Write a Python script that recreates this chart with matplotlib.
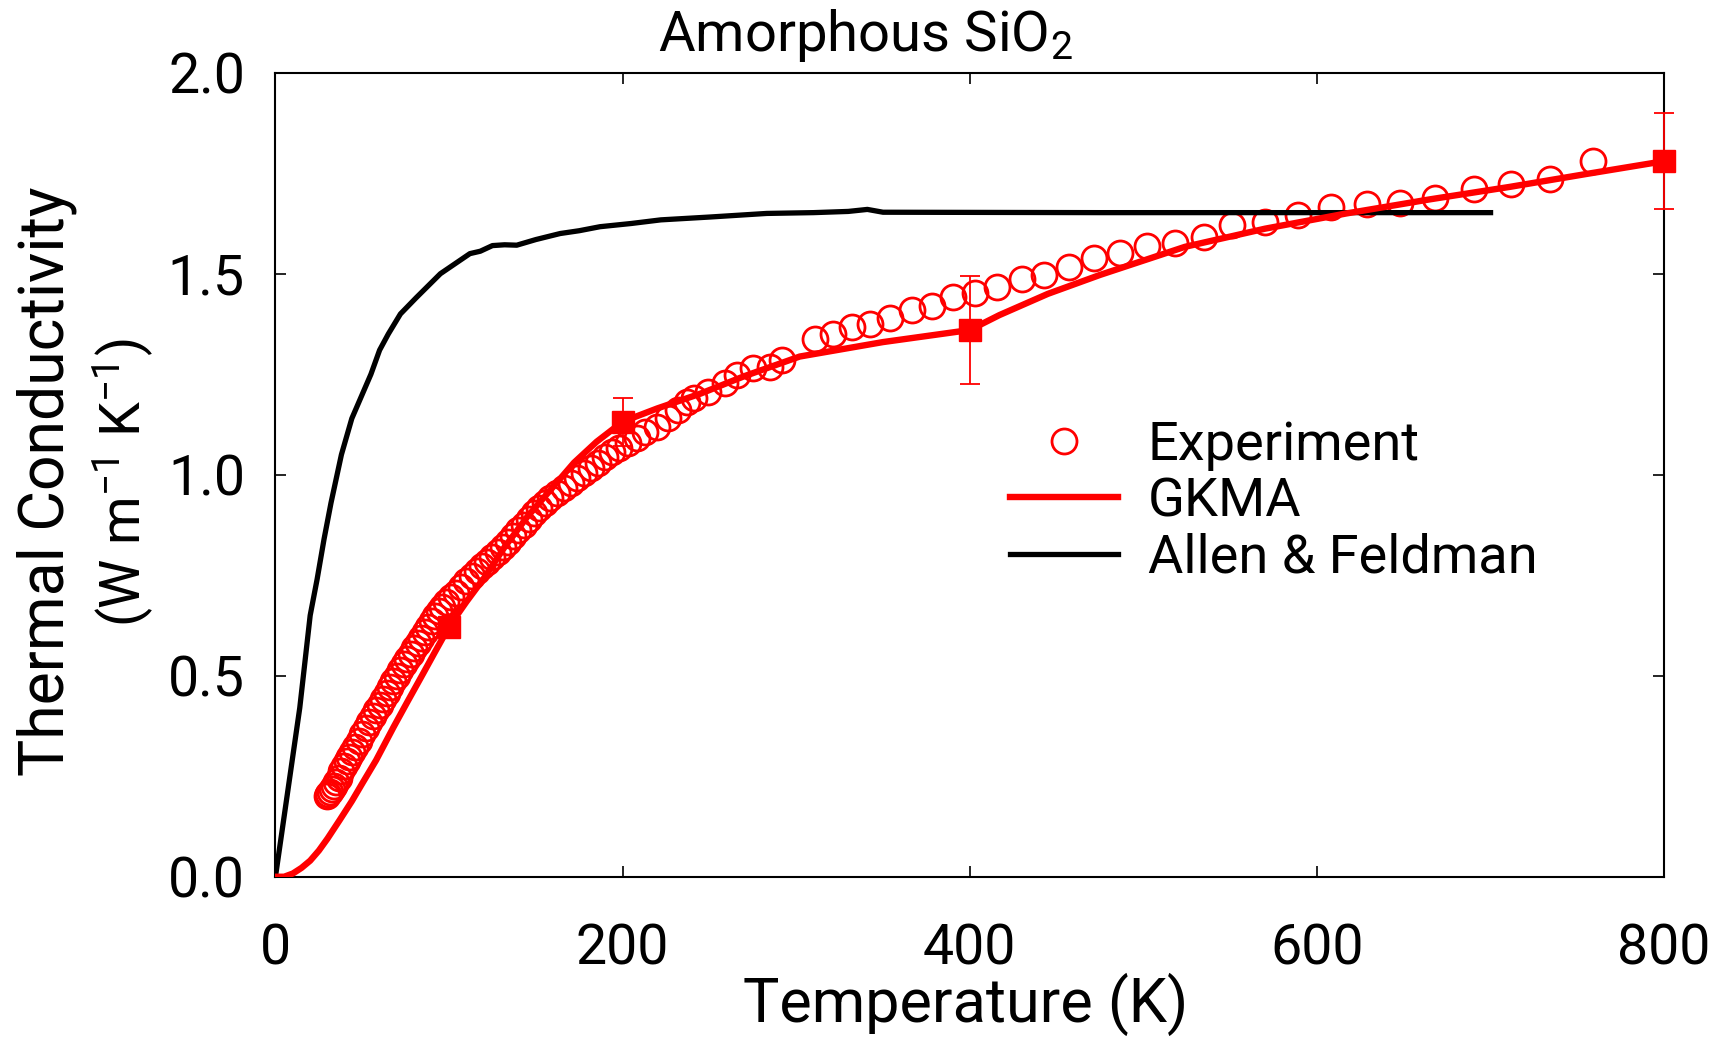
import matplotlib
matplotlib.use("Agg")
import matplotlib.pyplot as plt
from matplotlib.lines import Line2D

plt.rcParams['font.family'] = ['Roboto', 'DejaVu Sans']
plt.rcParams['mathtext.fontset'] = 'custom'
plt.rcParams['mathtext.rm'] = 'Roboto'
plt.rcParams['mathtext.it'] = 'Roboto'

# ---------------- data ----------------
exp_T = [29.5, 30.5, 31.5, 32.5, 33.5, 35, 36.5, 38, 39.5, 41, 42.5, 44, 46, 48, 50,
         52, 54, 56, 58, 60, 62, 64, 66, 68, 70, 72, 74, 76, 78, 80, 82, 84, 86, 88,
         90, 92, 94, 96, 98, 101, 104, 107, 110, 113, 116, 119, 122, 125, 128, 131,
         134, 137, 140, 143, 146, 149, 152, 155, 158, 162, 166, 170, 174, 178, 182,
         186, 190, 194, 198, 203, 208, 213, 220, 226, 232, 237, 241, 249, 259, 266,
         275, 285, 292, 311, 321, 332, 342.5, 354, 366.5, 378, 390.5, 403, 415.5,
         430, 442.5, 457, 471.5, 486.7, 502, 518, 535, 551, 570, 589, 608, 629, 648,
         668, 690.6, 712, 734, 759]
exp_k = [0.200, 0.205, 0.212, 0.218, 0.225, 0.235, 0.245, 0.262, 0.275, 0.287, 0.297,
         0.310, 0.322, 0.338, 0.355, 0.370, 0.384, 0.400, 0.414, 0.428, 0.442, 0.458,
         0.472, 0.487, 0.500, 0.514, 0.528, 0.541, 0.555, 0.568, 0.582, 0.595, 0.608,
         0.622, 0.635, 0.648, 0.660, 0.672, 0.683, 0.695, 0.707, 0.720, 0.735, 0.748,
         0.760, 0.772, 0.783, 0.795, 0.807, 0.820, 0.833, 0.847, 0.862, 0.876, 0.890,
         0.905, 0.918, 0.930, 0.941, 0.954, 0.966, 0.979, 0.992, 1.004, 1.017, 1.030,
         1.043, 1.056, 1.066, 1.080, 1.092, 1.106, 1.119, 1.140, 1.161, 1.180, 1.190,
         1.206, 1.227, 1.248, 1.265, 1.269, 1.285, 1.337, 1.350, 1.367, 1.375, 1.390,
         1.410, 1.420, 1.443, 1.451, 1.468, 1.486, 1.497, 1.517, 1.540, 1.551, 1.570,
         1.576, 1.592, 1.621, 1.629, 1.646, 1.667, 1.673, 1.677, 1.688, 1.710, 1.723,
         1.736, 1.781]

gkma_T = [0, 5, 10, 15, 20, 25, 30, 37, 44, 50, 58, 68, 76, 85, 92, 100, 110, 120,
          132, 145, 158, 172, 185, 200, 220, 245, 270, 302, 350, 400, 417, 445, 475,
          524, 570, 617, 665, 711, 755, 800]
gkma_k = [0.0, 0.0, 0.008, 0.022, 0.040, 0.065, 0.095, 0.141, 0.188, 0.232, 0.29,
          0.372, 0.435, 0.505, 0.56, 0.622, 0.684, 0.742, 0.82, 0.895, 0.96, 1.030,
          1.082, 1.132, 1.165, 1.202, 1.245, 1.294, 1.330, 1.360, 1.397, 1.450, 1.497,
          1.567, 1.612, 1.650, 1.685, 1.716, 1.748, 1.780]

gkma_pts_T = [100, 200, 400, 800]
gkma_pts_k = [0.622, 1.132, 1.360, 1.780]
gkma_err = [0.0, 0.06, 0.135, 0.12]

af_T = [0, 14, 20, 24, 28, 32, 38, 44, 49, 55, 60, 65, 72, 81, 95, 112, 118, 125,
        132, 139, 150, 164, 175, 187, 205, 222, 250, 283, 310, 330, 341, 350, 475, 700]
af_k = [0.0, 0.42, 0.65, 0.74, 0.84, 0.93, 1.05, 1.14, 1.19, 1.25, 1.31, 1.35, 1.40,
        1.44, 1.50, 1.55, 1.556, 1.57, 1.572, 1.571, 1.585, 1.60, 1.607, 1.617, 1.625,
        1.634, 1.641, 1.650, 1.652, 1.655, 1.660, 1.653, 1.652, 1.652]

xticks = [0, 200, 400, 600, 800]
yticks = [0.0, 0.5, 1.0, 1.5, 2.0]
ytick_labels = ['0.0', '0.5', '1.0', '1.5', '2.0']

RED = '#ff0000'
FS = 40

fig = plt.figure(figsize=(17.27, 10.42), dpi=100)
ax = fig.add_axes([0.1595, 0.1586, 0.8041, 0.7716])

ax.plot(exp_T, exp_k, linestyle='none', marker='o', ms=18, mfc='none',
        mec=RED, mew=2.0, zorder=2)
ax.plot(af_T, af_k, color='black', lw=3.8, zorder=3, solid_joinstyle='round')
ax.plot(gkma_T, gkma_k, color=RED, lw=4.6, zorder=4, solid_joinstyle='round')
ax.errorbar(gkma_pts_T, gkma_pts_k, yerr=gkma_err, fmt='s', ms=16, color=RED,
            ecolor=RED, elinewidth=1.3, capsize=7, capthick=1.3, clip_on=False,
            zorder=5)

ax.set_xlim(0, 800)
ax.set_ylim(0, 2.0)
ax.set_xticks(xticks)
ax.set_yticks(yticks)
ax.set_yticklabels(ytick_labels)
ax.tick_params(direction='in', length=8, width=1.2, top=True, right=True,
               labelsize=FS)
ax.tick_params(axis='x', pad=33)
ax.tick_params(axis='y', pad=22)
for s in ax.spines.values():
    s.set_linewidth(1.5)

fig.text(0.559, 0.036, 'Temperature (K)', ha='center', va='center', fontsize=44)
fig.text(0.027, 0.538, 'Thermal Conductivity', rotation=90, ha='center',
         va='center', fontsize=45)
fig.text(0.071, 0.537, r'(W m$^{\mathregular{-1}}$ K$^{\mathregular{-1}}$)', rotation=90,
         ha='center', va='center', fontsize=40)
fig.text(0.501, 0.966, r'Amorphous SiO$_{\mathregular{2}}$', ha='center', va='center',
         fontsize=40.5)

handles = [
    Line2D([], [], linestyle='none', marker='o', ms=18, mfc='none', mec=RED, mew=2.0),
    Line2D([], [], color=RED, lw=4.6),
    Line2D([], [], color='black', lw=3.8),
]
labels = ['Experiment', 'GKMA', 'Allen & Feldman']
ax.legend(handles, labels, loc='upper left', bbox_to_anchor=(0.513, 0.595),
          frameon=False, fontsize=39, handlelength=2.0, handletextpad=0.55,
          labelspacing=0.1, borderaxespad=0)

fig.savefig('out.png', dpi=100)
